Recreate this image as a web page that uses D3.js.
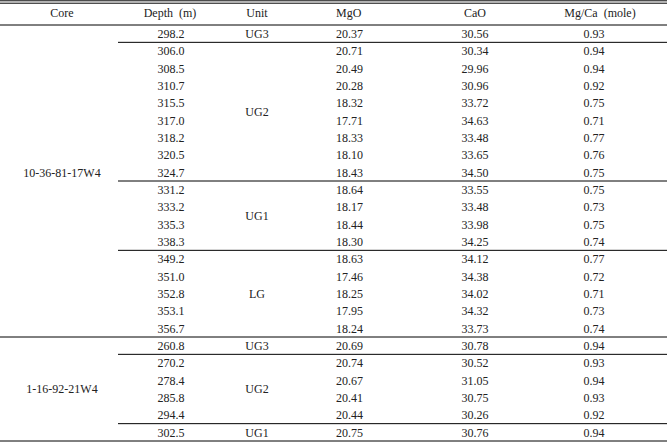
<!DOCTYPE html>
<html><head><meta charset="utf-8">
<script src="https://cdn.jsdelivr.net/npm/d3@7"></script>
<style>body{margin:0;background:#fff}text{font-family:"Liberation Serif","Times New Roman",serif;font-size:12px;fill:#222}</style>
</head><body><svg id="c" width="667" height="443"></svg>
<script>
const headers = ["Core","Depth  (m)","Unit","MgO","CaO","Mg/Ca  (mole)"];
const cores = [{name:"10-36-81-17W4", start:0, end:18},{name:"1-16-92-21W4", start:18, end:24}];
const units = [
  {name:"UG3",start:0,end:1},{name:"UG2",start:1,end:9},{name:"UG1",start:9,end:13},{name:"LG",start:13,end:18},
  {name:"UG3",start:18,end:19},{name:"UG2",start:19,end:23},{name:"UG1",start:23,end:24}];
const depth = ["298.2","306.0","308.5","310.7","315.5","317.0","318.2","320.5","324.7","331.2","333.2","335.3","338.3","349.2","351.0","352.8","353.1","356.7","260.8","270.2","278.4","285.8","294.4","302.5"];
const mgo = ["20.37","20.71","20.49","20.28","18.32","17.71","18.33","18.10","18.43","18.64","18.17","18.44","18.30","18.63","17.46","18.25","17.95","18.24","20.69","20.74","20.67","20.41","20.44","20.75"];
const cao = ["30.56","30.34","29.96","30.96","33.72","34.63","33.48","33.65","34.50","33.55","33.48","33.98","34.25","34.12","34.38","34.02","34.32","33.73","30.78","30.52","31.05","30.75","30.26","30.76"];
const mgca = ["0.93","0.94","0.94","0.92","0.75","0.71","0.77","0.76","0.75","0.75","0.73","0.75","0.74","0.77","0.72","0.71","0.73","0.74","0.94","0.93","0.94","0.93","0.92","0.94"];

const svg = d3.select("#c");
const W = 667;
const y = d3.scaleLinear().domain([0, depth.length]).range([25, 441]);
const rc = i => (y(i) + y(i+1)) / 2;
const colX = [62, 171, 257, 336, 475, 594];
const hdrX = [62, 170, 257, 336, 475, 600];
const anchors = ["middle","middle","middle","start","middle","middle"];
const line = (x1,x2,yy) => svg.append("line").attr("x1",x1).attr("x2",x2).attr("y1",yy).attr("y2",yy).attr("stroke","#000").attr("stroke-width",1);

line(0,W,0.8); line(0,W,3.2); line(0,W,y(0)); line(0,W,y(depth.length));
headers.forEach((h,i)=>svg.append("text").attr("x",hdrX[i]).attr("y",13).attr("dy","0.35em").attr("text-anchor",anchors[i]).style("white-space","pre").attr("xml:space","preserve").text(h));

const cols = [depth, null, mgo, cao, mgca];
[[1,depth],[3,mgo],[4,cao],[5,mgca]].forEach(([c,arr])=>{
  svg.selectAll(null).data(arr).enter().append("text")
    .attr("x",colX[c]).attr("y",(d,i)=>rc(i)).attr("dy","0.35em").attr("text-anchor",anchors[c]).text(d=>d);
});
units.forEach(u=>{
  svg.append("text").attr("x",colX[2]).attr("y",(y(u.start)+y(u.end))/2).attr("dy","0.35em").attr("text-anchor","middle").text(u.name);
  if (u.end < depth.length) {
    const coreEnd = cores.some(c=>c.end===u.end);
    if (!coreEnd) line(118, W, y(u.end));
  }
});
cores.forEach((c,k)=>{
  const mid = (y(c.start)+y(c.end))/2 - (k===0 ? 8 : 0);
  svg.append("text").attr("x",colX[0]).attr("y",mid).attr("dy","0.35em").attr("text-anchor","middle").text(c.name);
  if (c.end < depth.length) line(0, W, y(c.end));
});
</script></body></html>
